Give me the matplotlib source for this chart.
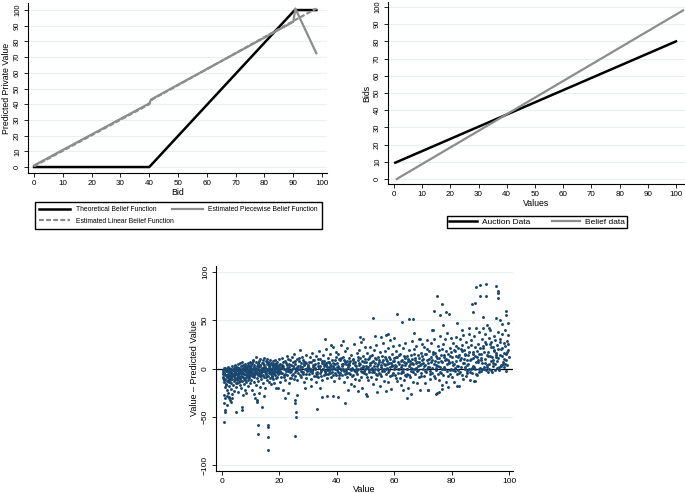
import matplotlib
matplotlib.use("Agg")
import matplotlib.pyplot as plt

plt.rcParams['font.family'] = ['Liberation Sans', 'DejaVu Sans']

# ---------------- data: panel 1 (belief functions) ----------------
theo_x = [0, 40, 90.5, 98]
theo_y = [0, 0, 100, 100]
piece_x = [0, 40, 40.6, 90, 90.7, 98]
piece_y = [1, 40.5, 43, 92.5, 101, 72.5]
lin_x = [0, 40, 41, 90, 98]
lin_y = [0.5, 40, 43, 93, 101]

# ---------------- data: panel 2 (bids vs values) ----------------
auction_x = [0.5, 100]
auction_y = [9.5, 80]
belief_x = [1, 102.5]
belief_y = [0, 98]

# ---------------- data: panel 3 (scatter value - predicted) ----------------
pts_a = [(0.4,-2),(0.5,-9),(0.6,-27),(0.7,-14),(0.8,-5),(0.9,-19),(1.0,1),(1.1,-11),(1.2,-31),(1.3,-7),(1.4,-3),(1.5,-16),(1.6,-22),(1.7,-1),(1.8,-8),(1.9,-13),(2.0,2),(2.1,-25),(2.2,-6),(2.3,-10),(2.4,-18),(2.5,-3),(2.6,-29),(2.7,-12),(2.8,0),(2.9,-7),(3.0,-21),(3.1,-4),(3.2,-15),(3.3,-9),(3.4,3),(3.5,-26),(3.6,-11),(3.7,-2),(3.8,-6),(3.9,-17),(4.0,1),(4.1,-13),(4.2,-8),(4.3,-23),(4.4,-4),(4.5,4),(4.6,-10),(4.7,-1),(4.8,-15),(4.9,-6),(5.0,-19),(5.1,2),(5.2,-9),(5.3,-12),(5.4,-3),(5.5,5),(5.6,-7),(5.7,-24),(5.8,-14),(5.9,0),(6.0,-5),(6.1,6),(6.2,-11),(6.3,-2),(6.4,-17),(6.5,3),(6.6,-8),(6.7,-20),(6.8,-4),(6.9,7),(7.0,-13),(7.1,-1),(7.2,-9),(7.3,-27),(7.4,4),(7.5,-6),(7.6,-16),(7.7,1),(7.8,-11),(7.9,-3),(8.0,-22),(8.1,5),(8.2,-7),(8.3,-14),(8.4,-1),(8.5,-25),(8.6,-9),(8.7,2),(8.8,-5),(8.9,-18),(9.0,6),(9.1,-3),(9.2,-12),(9.3,0),(9.4,-8),(9.5,3),(9.6,-15),(9.7,-6),(9.8,7),(9.9,-2),
         (0.8,-55),(0.9,-45),(1.0,-43),(0.7,-36),(1.6,-38),(2.9,-33),(3.6,-31),(4.9,-45),(6.9,-40),(7.1,-43),(3.1,-35),(2.4,-30),(1.9,-28),
         (0.5,-4),(1.0,-7),(1.5,0),(2.0,-12),(2.5,-5),(3.0,-1),(3.5,-8),(4.0,-3),(4.5,-11),(5.0,-2),(5.5,-6),(6.0,1),(6.5,-9),(7.0,-4),(7.5,2),(8.0,-10),(8.5,-1),(9.0,-7),(9.5,-4),(0.3,-6),(1.3,-17),(2.3,1),(3.3,-4),(4.3,-7),(5.3,0),(6.3,-13),(7.3,-5),(8.3,3),(9.3,-10),(0.8,-12),(1.8,-3),(2.8,-10),(3.8,-2),(4.8,-5),(5.8,-9),(6.8,-1),(7.8,-6),(8.8,0),(9.8,-5)]
pts_b = [(10.0,-4),(10.1,3),(10.2,-12),(10.3,-1),(10.4,6),(10.5,-8),(10.6,-22),(10.7,0),(10.8,-5),(10.9,9),(11.0,-14),(11.1,-2),(11.2,4),(11.3,-9),(11.4,-30),(11.5,1),(11.6,-6),(11.7,-17),(11.8,7),(11.9,-3),(12.0,12),(12.1,-10),(12.2,-1),(12.3,-33),(12.4,5),(12.5,-7),(12.6,2),(12.7,-13),(12.8,-4),(12.9,8),(13.0,-2),(13.1,-19),(13.2,3),(13.3,-8),(13.4,10),(13.5,-5),(13.6,0),(13.7,-11),(13.8,6),(13.9,-3),(14.0,-40),(14.1,1),(14.2,-7),(14.3,9),(14.4,-15),(14.5,-2),(14.6,4),(14.7,-9),(14.8,11),(14.9,-4),(15.0,-20),(15.1,2),(15.2,-6),(15.3,8),(15.4,-1),(15.5,-12),(15.6,5),(15.7,-3),(15.8,10),(15.9,-8),(16.0,0),(16.1,7),(16.2,-5),(16.3,-14),(16.4,3),(16.5,-2),(16.6,9),(16.7,-10),(16.8,1),(16.9,-6),(17.0,6),(17.1,-3),(17.2,-16),(17.3,4),(17.4,-1),(17.5,-8),(17.6,8),(17.7,-4),(17.8,2),(17.9,-11),(18.0,-15),(18.1,5),(18.2,-2),(18.3,-7),(18.4,9),(18.5,0),(18.6,-4),(18.7,3),(18.8,-20),(18.9,6),(19.0,-9),(19.1,1),(19.2,-3),(19.3,7),(19.4,-6),(19.5,-20),(19.6,2),(19.7,-1),(19.8,10),(19.9,-5),
         (12.5,-58),(12.4,-68),(16.0,-58),(16.1,-60),(16.0,-71),(16.0,-84),(12.2,-35),(13.0,-25),(14.5,-28),(11.0,-26),
         (10.5,-2),(11.5,-4),(12.5,0),(13.5,-3),(14.5,2),(15.5,-1),(16.5,3),(17.5,-5),(18.5,1),(19.5,-2),(10.2,5),(11.2,-7),(12.2,3),(13.2,-6),(14.2,6),(15.2,-9),(16.2,4),(17.2,0),(18.2,-6),(19.2,4)]
pts_c = [(20.1,-3),(20.3,5),(20.5,-9),(20.7,1),(20.9,11),(21.0,-5),(21.2,-22),(21.4,3),(21.6,-1),(21.8,8),(22.0,-12),(22.2,0),(22.4,6),(22.6,-7),(22.8,13),(23.0,-3),(23.2,2),(23.4,-15),(23.6,9),(23.8,-4),(24.0,4),(24.2,-10),(24.4,-1),(24.6,7),(24.8,-6),(25.0,15),(25.2,1),(25.4,-8),(25.6,5),(25.8,-2),(26.0,10),(26.2,-12),(26.4,3),(26.6,-5),(26.8,8),(27.0,19),(27.2,-1),(27.4,6),(27.6,-9),(27.8,2),(28.0,12),(28.2,-4),(28.4,4),(28.6,-14),(28.8,0),(29.0,7),(29.2,-6),(29.4,14),(29.6,-2),(29.8,3),(20.2,-14),(21.1,7),(22.1,-6),(23.1,10),(24.1,-3),(25.1,-11),(26.1,2),(27.1,-7),(28.1,9),(29.1,-10),(20.6,2),(21.5,-9),(22.5,4),(23.5,-2),(24.5,12),(25.5,-4),(26.5,0),(27.5,-3),(28.5,5),(29.5,1),
         (25.5,-33),(25.6,-36),(25.7,-45),(25.8,-50),(25.5,-70),(26.2,-27),(23.0,-25),(21.8,-30),(29.0,-20)]
pts_d = [(30.1,4),(30.3,-6),(30.5,12),(30.7,0),(30.9,-11),(31.1,7),(31.3,-3),(31.5,16),(31.7,2),(31.9,-8),(32.1,9),(32.3,-1),(32.5,5),(32.7,-14),(32.9,13),(33.1,-4),(33.3,3),(33.5,-9),(33.7,18),(33.9,1),(34.1,-5),(34.3,10),(34.5,-2),(34.7,6),(34.9,-12),(35.1,14),(35.3,0),(35.5,-7),(35.7,8),(35.9,-3),(36.1,20),(36.3,4),(36.5,-10),(36.7,2),(36.9,11),(37.1,-6),(37.3,7),(37.5,-1),(37.7,15),(37.9,-9),(38.1,3),(38.3,-4),(38.5,22),(38.7,6),(38.9,-13),(39.1,1),(39.3,9),(39.5,-5),(39.7,17),(39.9,-2),(30.2,1),(31.2,-2),(32.2,4),(33.2,-6),(34.2,3),(35.2,-1),(36.2,6),(37.2,-3),(38.2,9),(39.2,0),(30.6,-3),(31.6,9),(32.6,-5),(33.6,6),(34.6,-8),(35.6,3),(36.6,-2),(37.6,5),(38.6,-7),(39.6,12),
         (36.0,31),(38.0,24),(33.0,-42),(35.0,-29),(36.5,-28),(38.5,-28),(40.5,-29),(31.0,-18),(34.0,-20)]
pts_e = [(40.1,6),(40.3,-4),(40.5,15),(40.7,1),(40.9,-10),(41.1,9),(41.3,-2),(41.5,24),(41.7,3),(41.9,-7),(42.1,12),(42.3,0),(42.5,-14),(42.7,7),(42.9,18),(43.1,-3),(43.3,5),(43.5,-9),(43.7,21),(43.9,2),(44.1,-5),(44.3,11),(44.5,-1),(44.7,8),(44.9,-16),(45.1,14),(45.3,1),(45.5,-7),(45.7,10),(45.9,-2),(46.1,25),(46.3,4),(46.5,-11),(46.7,3),(46.9,16),(47.1,-6),(47.3,9),(47.5,0),(47.7,19),(47.9,-12),(48.1,5),(48.3,-3),(48.5,27),(48.7,8),(48.9,-20),(49.1,2),(49.3,13),(49.5,-5),(49.7,22),(49.9,-1),(40.2,2),(41.2,-5),(42.2,5),(43.2,-1),(44.2,4),(45.2,-8),(46.2,7),(47.2,-2),(48.2,11),(49.2,3),(40.6,-7),(41.6,11),(42.6,-3),(43.6,8),(44.6,-6),(45.6,6),(46.6,-4),(47.6,4),(48.6,-9),(49.6,7),
         (43.0,-36),(48.0,33),(49.0,30),(44.0,-22),(46.0,-18),(47.5,-23),(42.0,28)]
pts_f = [(50.1,7),(50.3,-6),(50.5,16),(50.7,2),(50.9,-12),(51.1,11),(51.3,-2),(51.5,22),(51.7,4),(51.9,-9),(52.1,14),(52.3,1),(52.5,-16),(52.7,8),(52.9,19),(53.1,-4),(53.3,6),(53.5,-11),(53.7,24),(53.9,3),(54.1,-7),(54.3,12),(54.5,0),(54.7,9),(54.9,-18),(55.1,17),(55.3,2),(55.5,-8),(55.7,13),(55.9,-3),(56.1,26),(56.3,5),(56.5,-13),(56.7,4),(56.9,18),(57.1,-6),(57.3,10),(57.5,1),(57.7,21),(57.9,-14),(58.1,6),(58.3,-2),(58.5,29),(58.7,10),(58.9,-21),(59.1,3),(59.3,15),(59.5,-5),(59.7,23),(59.9,0),(50.2,3),(51.2,-4),(52.2,7),(53.2,0),(54.2,5),(55.2,-6),(56.2,9),(57.2,-1),(58.2,12),(59.2,4),(50.6,-9),(51.6,13),(52.6,-2),(53.6,10),(54.6,-5),(55.6,7),(56.6,-3),(57.6,5),(58.6,-8),(59.6,8),
         (52.6,52),(53.3,34),(57.0,35),(58.0,36),(60.0,32),(50.0,-26),(50.5,-28),(57.0,-23),(54.0,-24),(55.5,33)]
pts_g = [(60.1,8),(60.3,-7),(60.5,18),(60.7,3),(60.9,-13),(61.1,12),(61.3,-1),(61.5,24),(61.7,5),(61.9,-10),(62.1,15),(62.3,2),(62.5,-17),(62.7,9),(62.9,21),(63.1,-4),(63.3,7),(63.5,-12),(63.7,26),(63.9,4),(64.1,-8),(64.3,13),(64.5,0),(64.7,10),(64.9,-20),(65.1,19),(65.3,3),(65.5,-9),(65.7,14),(65.9,-3),(66.1,28),(66.3,6),(66.5,-14),(66.7,5),(66.9,20),(67.1,-6),(67.3,11),(67.5,1),(67.7,23),(67.9,-15),(68.1,7),(68.3,-2),(68.5,30),(68.7,11),(68.9,-22),(69.1,4),(69.3,16),(69.5,-5),(69.7,25),(69.9,0),(60.2,4),(61.2,-5),(62.2,8),(63.2,0),(64.2,6),(65.2,-7),(66.2,10),(67.2,-1),(68.2,14),(69.2,5),(60.6,-10),(61.6,14),(62.6,-3),(63.6,11),(64.6,-6),(65.6,8),(66.6,-4),(67.6,6),(68.6,-9),(69.6,9),
         (61.0,56),(62.7,48),(65.2,51),(66.5,51),(67.0,37),(64.5,-31),(66.0,-26),(63.0,-22),(69.0,30)]
pts_h = [(70.1,10),(70.3,-8),(70.5,22),(70.7,4),(70.9,-15),(71.1,15),(71.3,0),(71.5,29),(71.7,6),(71.9,-22),(72.1,18),(72.3,2),(72.5,-11),(72.7,12),(72.9,26),(73.1,-5),(73.3,9),(73.5,40),(73.7,31),(73.9,5),(74.1,-10),(74.3,16),(74.5,1),(74.7,13),(74.9,-25),(75.1,23),(75.3,3),(75.5,-12),(75.7,19),(75.9,-4),(76.1,34),(76.3,8),(76.5,-17),(76.7,7),(76.9,25),(77.1,-7),(77.3,14),(77.5,2),(77.7,30),(77.9,-14),(78.1,10),(78.3,-3),(78.5,37),(78.7,15),(78.9,-19),(79.1,6),(79.3,21),(79.5,-6),(79.7,32),(79.9,0),(70.2,6),(71.2,-4),(72.2,10),(73.2,1),(74.2,8),(75.2,-6),(76.2,14),(77.2,0),(78.2,18),(79.2,7),(70.6,-3),(71.6,20),(72.6,-6),(73.6,15),(74.6,-2),(75.6,11),(76.6,-1),(77.6,9),(78.6,-8),(79.6,13),
         (75.0,75),(76.7,67),(74.0,59),(76.0,55),(78.0,58),(79.0,56),(74.5,-26),(75.5,-24),(76.5,-21),(71.7,-22),(73.0,40),(77.0,45)]
pts_i = [(80.1,12),(80.3,-9),(80.5,26),(80.7,5),(80.9,-14),(81.1,18),(81.3,1),(81.5,33),(81.7,8),(81.9,-6),(82.1,21),(82.3,3),(82.5,-18),(82.7,14),(82.9,30),(83.1,-4),(83.3,11),(83.5,40),(83.7,24),(83.9,6),(84.1,-11),(84.3,19),(84.5,2),(84.7,15),(84.9,-8),(85.1,27),(85.3,4),(85.5,-3),(85.7,22),(85.9,0),(86.1,36),(86.3,9),(86.5,-12),(86.7,10),(86.9,29),(87.1,-5),(87.3,17),(87.5,3),(87.7,34),(87.9,-13),(88.1,13),(88.3,-1),(88.5,42),(88.7,18),(88.9,-7),(89.1,7),(89.3,25),(89.5,-4),(89.7,38),(89.9,1),(80.2,7),(81.2,-3),(82.2,12),(83.2,2),(84.2,10),(85.2,-5),(86.2,17),(87.2,1),(88.2,22),(89.2,9),(80.6,-2),(81.6,23),(82.6,-5),(83.6,18),(84.6,-1),(85.6,14),(86.6,0),(87.6,11),(88.6,-6),(89.6,15),
         (82.0,47),(87.0,67),(88.0,68),(87.5,58),(88.5,84),(82.0,-18),(88.0,-13),(84.0,35),(86.0,42)]
pts_j = [(90.1,15),(90.3,-3),(90.5,30),(90.7,6),(90.9,42),(91.1,21),(91.3,2),(91.5,36),(91.7,10),(91.9,-2),(92.1,25),(92.3,4),(92.5,45),(92.7,17),(92.9,32),(93.1,0),(93.3,13),(93.5,40),(93.7,27),(93.9,8),(94.1,-4),(94.3,22),(94.5,3),(94.7,19),(94.9,34),(95.1,29),(95.3,5),(95.5,12),(95.7,24),(95.9,1),(96.1,38),(96.3,11),(96.5,-1),(96.7,14),(96.9,31),(97.1,4),(97.3,20),(97.5,46),(97.7,36),(97.9,7),(98.1,16),(98.3,2),(98.5,40),(98.7,23),(98.9,-3),(99.1,9),(99.3,28),(99.5,47),(99.7,35),(99.9,12),(90.2,9),(91.2,-1),(92.2,14),(93.2,5),(94.2,12),(95.2,-2),(96.2,20),(97.2,3),(98.2,26),(99.2,17),(90.6,0),(91.6,27),(92.6,-4),(93.6,22),(94.6,6),(95.6,16),(96.6,2),(97.6,13),(98.6,5),(99.6,19),
         (90.0,86),(92.0,87),(90.0,75),(92.0,75),(95.5,85),(96.0,80),(96.1,78),(96.0,73),(99.0,59),(99.0,55),(95.5,52),(91.0,53),(93.0,42),(97.0,50)]
pts_k = [(0.2,-10),(1.1,-2),(2.1,-8),(3.2,0),(4.1,-6),(5.2,-15),(6.1,-3),(7.2,1),(8.1,-12),(9.1,4),(0.6,1),(1.6,-9),(2.6,-14),(3.6,-6),(4.6,2),(5.6,-11),(6.6,-6),(7.6,-2),(8.6,-4),(9.6,1),
         (10.3,-7),(11.3,2),(12.3,-5),(13.3,4),(14.3,-3),(15.3,-6),(16.3,6),(17.3,-9),(18.3,3),(19.3,-4),(10.7,8),(11.7,-1),(12.7,6),(13.7,-8),(14.7,1),(15.7,7),(16.7,-4),(17.7,5),(18.7,-10),(19.7,4),
         (20.4,-5),(21.3,1),(22.3,-3),(23.3,5),(24.3,-7),(25.3,8),(26.3,-2),(27.3,3),(28.3,-6),(29.3,6),(20.8,4),(21.7,-7),(22.7,1),(23.7,-10),(24.7,3),(25.7,-1),(26.7,11),(27.7,-4),(28.7,7),(29.7,-3),
         (30.4,7),(31.4,-5),(32.4,1),(33.4,10),(34.4,-3),(35.4,5),(36.4,-6),(37.4,2),(38.4,-1),(39.4,5),(30.8,-1),(31.8,4),(32.8,-8),(33.8,2),(34.8,8),(35.8,-4),(36.8,7),(37.8,-5),(38.8,3),(39.8,-7),
         (40.4,3),(41.4,-1),(42.4,9),(43.4,-5),(44.4,6),(45.4,0),(46.4,-3),(47.4,12),(48.4,1),(49.4,-3),(40.8,10),(41.8,5),(42.8,-6),(43.8,4),(44.8,-2),(45.8,9),(46.8,-1),(47.8,6),(48.8,-4),(49.8,10),
         (50.4,1),(51.4,6),(52.4,-4),(53.4,11),(54.4,-2),(55.4,4),(56.4,-1),(57.4,8),(58.4,2),(59.4,-7),(50.8,10),(51.8,-1),(52.8,3),(53.8,-6),(54.8,7),(55.8,0),(56.8,12),(57.8,-4),(58.8,6),(59.8,11),
         (60.4,2),(61.4,7),(62.4,-5),(63.4,13),(64.4,-1),(65.4,5),(66.4,0),(67.4,9),(68.4,3),(69.4,-8),(60.8,12),(61.8,0),(62.8,4),(63.8,-7),(64.8,8),(65.8,1),(66.8,15),(67.8,-3),(68.8,7),(69.8,13),
         (70.4,3),(71.4,9),(72.4,-3),(73.4,17),(74.4,4),(75.4,7),(76.4,-5),(77.4,12),(78.4,5),(79.4,-2),(70.8,15),(71.8,2),(72.8,7),(73.8,-8),(74.8,11),(75.8,2),(76.8,20),(77.8,-1),(78.8,9),(79.8,17),
         (80.4,4),(81.4,13),(82.4,-2),(83.4,20),(84.4,6),(85.4,9),(86.4,-4),(87.4,15),(88.4,7),(89.4,-1),(80.8,19),(81.8,3),(82.8,9),(83.8,-7),(84.8,14),(85.8,5),(86.8,24),(87.8,2),(88.8,12),(89.8,21),
         (90.4,11),(91.4,17),(92.4,2),(93.4,25),(94.4,9),(95.4,14),(96.4,-2),(97.4,21),(98.4,10),(99.4,4),(90.8,23),(91.8,6),(92.8,13),(93.8,-2),(94.8,18),(95.8,8),(96.8,27),(97.8,5),(98.8,15),(99.8,25)]

ticks_10 = list(range(0, 101, 10))
ticks_x3 = list(range(0, 101, 20))
ticks_y3 = [-100, -50, 0, 50, 100]

GRID = '#e8f0f2'
GRAY = '#8c8c8c'
NAVY = '#1a476f'

W, H = 685, 493
fig = plt.figure(figsize=(W / 100, H / 100), dpi=100)


def box(l, t, r, b):
    return [l / W, 1 - b / H, (r - l) / W, (b - t) / H]


def style(ax, xt, yt, fs_x, fs_y):
    for s in ('top', 'right'):
        ax.spines[s].set_visible(False)
    for s in ('left', 'bottom'):
        ax.spines[s].set_linewidth(0.8)
    ax.set_xticks(xt)
    ax.set_yticks(yt)
    ax.tick_params(direction='out', length=3, width=0.6, pad=2)
    ax.tick_params(axis='x', labelsize=fs_x)
    ax.tick_params(axis='y', labelsize=fs_y)
    for lab in ax.get_yticklabels():
        lab.set_rotation(90)
        lab.set_va('center')
    ax.yaxis.grid(True, color=GRID, lw=0.8)
    ax.set_axisbelow(True)


# ---- panel 1 ----
ax1 = fig.add_axes(box(28, 3, 327, 173))
ax1.set_xlim(-2.1, 101.7)
ax1.set_ylim(-3.8, 104.5)
style(ax1, ticks_10, ticks_10, 5.8, 5.5)
l_theo, = ax1.plot(theo_x, theo_y, color='black', lw=1.8, solid_joinstyle='miter')
l_lin, = ax1.plot(lin_x, lin_y, color=GRAY, lw=1.6, ls=(0, (2.2, 1)))
l_piece, = ax1.plot(piece_x, piece_y, color=GRAY, lw=1.6)
ax1.set_xlabel('Bid', fontsize=6.3, labelpad=1)
ax1.set_ylabel('Predicted Private Value', fontsize=6.3, labelpad=2)
fig.legend([l_theo, l_lin, l_piece],
           ['Theoretical Belief Function', 'Estimated Linear Belief Function',
            'Estimated Piecewise Belief Function'],
           loc='upper left', bbox_to_anchor=(32 / W, 1 - 199 / H, 293 / W, 0.0),
           mode='expand', ncol=2, fontsize=4.9, frameon=True, fancybox=False,
           edgecolor='black', framealpha=1, handlelength=4.5, borderpad=0.6,
           labelspacing=0.6, columnspacing=1.0)

# ---- panel 2 ----
ax2 = fig.add_axes(box(388, 2, 685, 184))
ax2.set_xlim(-2.1, 103.2)
ax2.set_ylim(-2.9, 102.9)
style(ax2, ticks_10, ticks_10, 5.8, 5.5)
l_auc, = ax2.plot(auction_x, auction_y, color='black', lw=1.8)
l_bel, = ax2.plot(belief_x, belief_y, color=GRAY, lw=1.6)
ax2.set_xlabel('Values', fontsize=6.3, labelpad=1)
ax2.set_ylabel('Bids', fontsize=6.3, labelpad=2)
fig.legend([l_auc, l_bel], ['Auction Data', 'Belief data'],
           loc='upper left', bbox_to_anchor=(443 / W, 1 - 212 / H, 188 / W, 0.0),
           mode='expand', ncol=2, fontsize=6, frameon=True, fancybox=False,
           edgecolor='black', framealpha=1, handlelength=3.3, borderpad=0.25,
           columnspacing=1.0, handletextpad=0.6)

# ---- panel 3 ----
ax3 = fig.add_axes(box(216, 266, 513, 471))
ax3.set_xlim(-2.1, 101.4)
ax3.set_ylim(-106, 106)
style(ax3, ticks_x3, ticks_y3, 6, 6)
ax3.axhline(0, color='black', lw=0.9, zorder=1)
for pts in (pts_a, pts_b, pts_c, pts_d, pts_e, pts_f, pts_g, pts_h, pts_i, pts_j, pts_k):
    xs = [p[0] for p in pts]
    ys = [p[1] for p in pts]
    ax3.scatter(xs, ys, s=4.5, color=NAVY, linewidths=0, zorder=2)
ax3.set_xlabel('Value', fontsize=6.5, labelpad=0)
ax3.set_ylabel('Value \u2013 Predicted Value', fontsize=6.5, labelpad=2)

fig.savefig('out.png', dpi=100)
